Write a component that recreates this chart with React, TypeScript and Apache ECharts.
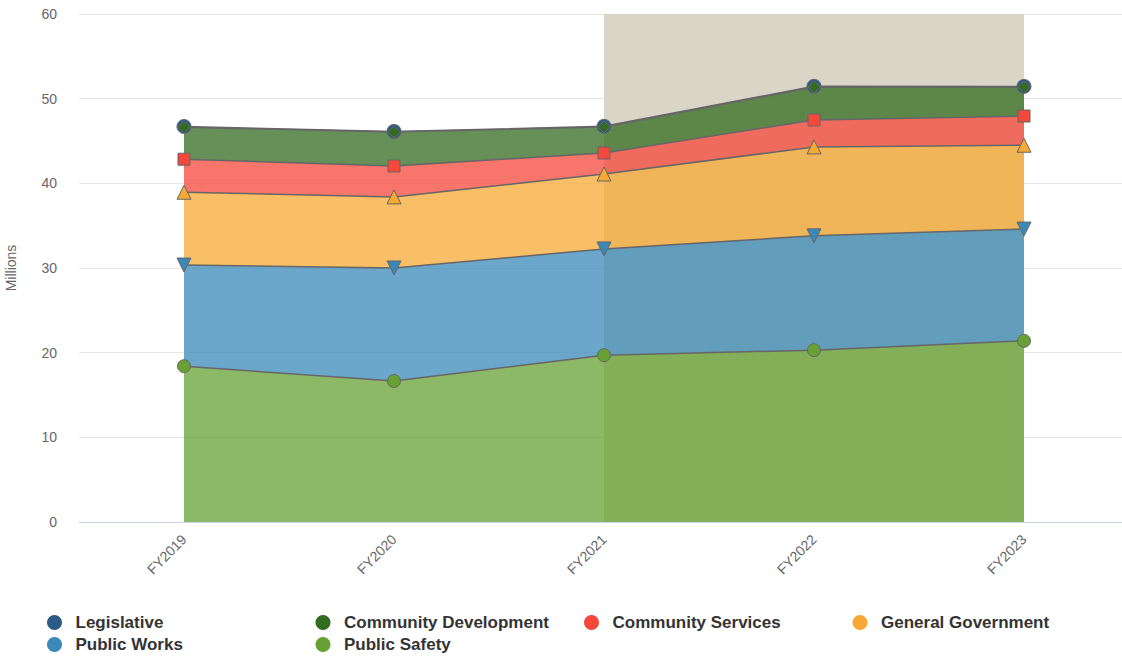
import React, { useEffect, useRef } from "react";
import * as echarts from "echarts";

const categories = ["FY2019", "FY2020", "FY2021", "FY2022", "FY2023"];
const publicSafety = [18.4, 16.65, 19.7, 20.3, 21.4];
const publicWorks = [11.95, 13.35, 12.55, 13.5, 13.2];
const generalGovernment = [8.6, 8.4, 8.85, 10.5, 9.9];
const communityServices = [3.9, 3.65, 2.48, 3.18, 3.45];
const communityDevelopment = [3.78, 4.0, 3.07, 3.9, 3.42];
const legislative = [0.08, 0.08, 0.08, 0.08, 0.08];
const yTicks = { min: 0, max: 60, interval: 10 };
const legendOrder = [
  "Legislative",
  "Community Development",
  "Community Services",
  "General Government",
  "Public Works",
  "Public Safety",
];

const FONT = "'Liberation Sans', Arial, Helvetica, sans-serif";

export default function App() {
  const ref = useRef<HTMLDivElement>(null);
  useEffect(() => {
    if (!ref.current) return;
    const chart = echarts.init(ref.current, null, { renderer: "svg" });
    const mk = (
      name: string,
      data: number[],
      color: string,
      symbol: string,
      size: number,
      rotate = 0
    ) => ({
      name,
      type: "line",
      stack: "total",
      stackOrder: "seriesDesc",
      data,
      z: 2,
      symbol,
      symbolSize: size,
      symbolRotate: rotate,
      showSymbol: true,
      itemStyle: { color, borderColor: "#666666", borderWidth: 1 },
      lineStyle: { color: "#666666", width: 1.5 },
      areaStyle: { color, opacity: 0.75 },
      emphasis: { disabled: true },
    });
    chart.setOption({
      animation: false,
      textStyle: { fontFamily: FONT },
      grid: {
        left: 79,
        right: -7,
        top: 14,
        bottom: 137,
        containLabel: false,
        outerBoundsMode: "none",
      },
      legend: {
        data: legendOrder,
        left: 42,
        top: 609,
        width: 1085,
        orient: "horizontal",
        icon: "circle",
        itemWidth: 32,
        itemHeight: 15,
        itemGap: 5,
        itemStyle: { borderWidth: 0 },
        textStyle: {
          fontFamily: FONT,
          fontSize: 17,
          fontWeight: "bold",
          color: "#333333",
          width: 235,
          height: 16,
          lineHeight: 16,
        },
      },
      xAxis: {
        type: "category",
        data: categories,
        boundaryGap: true,
        axisLine: { show: true, lineStyle: { color: "#ccd6eb", width: 1 } },
        axisTick: { show: false },
        axisLabel: { rotate: 45, color: "#666666", fontSize: 14, margin: 15, fontFamily: FONT },
        splitLine: { show: false },
      },
      yAxis: {
        type: "value",
        min: yTicks.min,
        max: yTicks.max,
        interval: yTicks.interval,
        name: "Millions",
        nameLocation: "middle",
        nameGap: 61,
        nameTextStyle: { color: "#666666", fontSize: 14, fontFamily: FONT },
        axisLine: { show: false },
        axisTick: { show: false },
        axisLabel: { color: "#666666", fontSize: 14, margin: 22, fontFamily: FONT },
        splitLine: { lineStyle: { color: "#e6e6e6", width: 1 } },
      },
      series: [
        {
          name: "band",
          type: "line",
          data: [],
          z: 1,
          silent: true,
          markArea: {
            silent: true,
            itemStyle: { color: "#d9d6c8" },
            data: [[{ xAxis: "FY2021" }, { xAxis: "FY2023" }]],
          },
        },
        mk("Legislative", legislative, "#2c5b87", "circle", 14),
        mk("Community Development", communityDevelopment, "#336b1f", "diamond", 12),
        mk("Community Services", communityServices, "#f5473a", "rect", 12),
        mk("General Government", generalGovernment, "#f7a934", "triangle", 14),
        mk("Public Works", publicWorks, "#3a89b8", "triangle", 14, 180),
        mk("Public Safety", publicSafety, "#67a033", "circle", 13),
      ],
    });
    return () => chart.dispose();
  }, []);
  return <div ref={ref} style={{ width: 1122, height: 659, position: "absolute", left: 0, top: 0 }} />;
}
